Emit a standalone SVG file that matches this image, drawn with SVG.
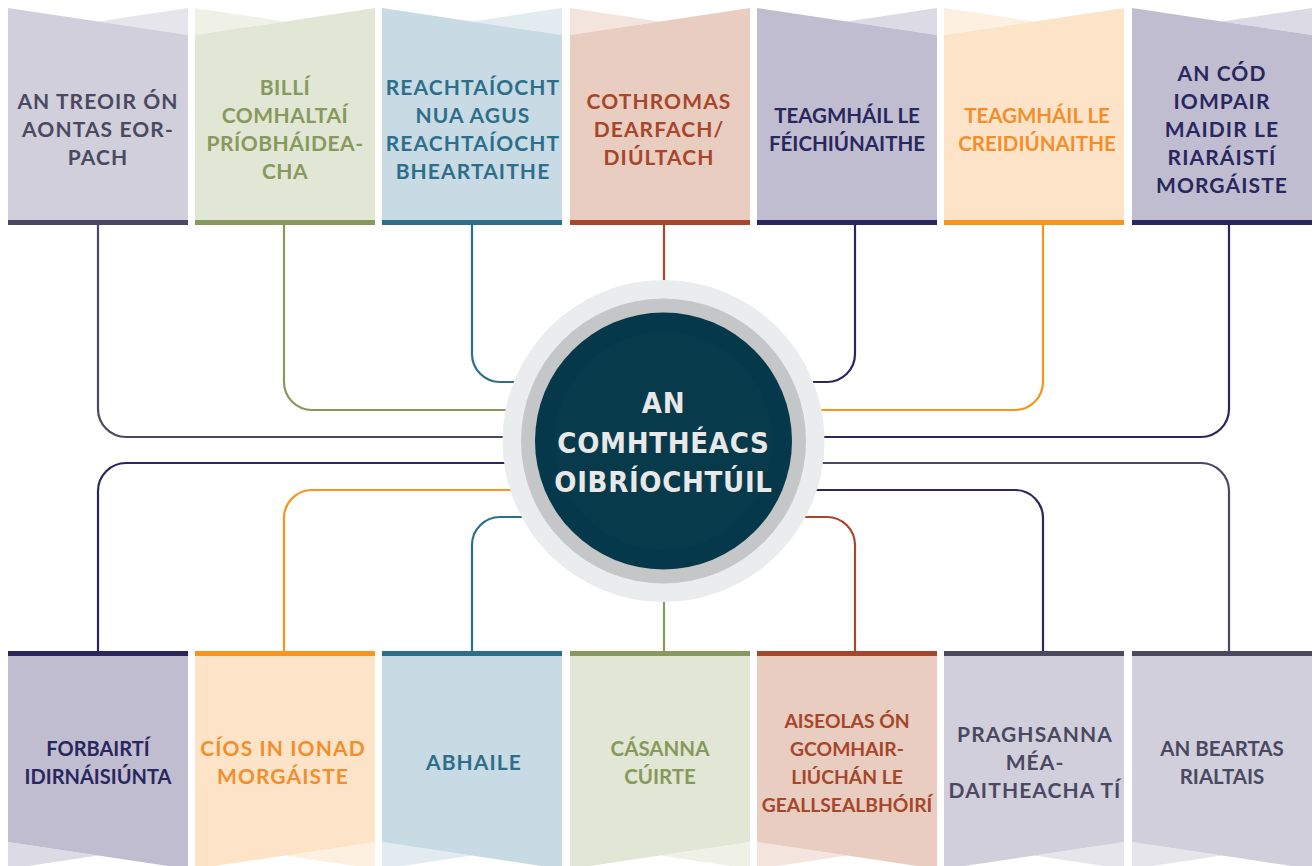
<svg xmlns="http://www.w3.org/2000/svg" width="1314" height="866" viewBox="0 0 1314 866">
<style>
.t{font-family:Lato,"Liberation Sans",sans-serif;font-weight:700;font-size:20.5px;text-anchor:middle}
.w{font-size:21px;letter-spacing:1.1px}
.m{font-size:21px;letter-spacing:0.5px}
.n{font-size:20px}
.s{font-size:19.3px}
.lite{opacity:.55}
.c{fill:none;stroke-width:2.2}
.gp{fill:#d0cfdb}.gpt{fill:#4b4862}.gps{stroke:#4b4862}
.gr{fill:#e2e6d4}.grt{fill:#87995c}.grs{stroke:#87995c}
.bl{fill:#c8dae3}.blt{fill:#2d6f8b}.bls{stroke:#2d6f8b}
.ru{fill:#e9cdc1}.rut{fill:#a6462a}.rus{stroke:#a6462a}
.nv{fill:#c0bdd0}.nvt{fill:#29275e}.nvs{stroke:#29275e}
.or{fill:#fde3c7}.ort{fill:#f28f2c}.ors{stroke:#f7941d}
.ct{font-family:"DejaVu Sans Condensed","DejaVu Sans",sans-serif;font-weight:700;font-size:29px;fill:#e8e8e8;text-anchor:middle;letter-spacing:0.7px}
</style>
<rect width="1314" height="866" fill="#ffffff"/>
<g id="connectors">
<path class="c gps" d="M98,225 V409 A28,28 0 0 0 126,437 H600"/>
<path class="c grs" d="M284,225 V382 A28,28 0 0 0 312,410 H600"/>
<path class="c bls" d="M472,225 V354 A28,28 0 0 0 500,382 H600"/>
<path class="c rus" d="M664,225 V300"/>
<path class="c nvs" d="M855,225 V354 A28,28 0 0 1 827,382 H720"/>
<path class="c ors" d="M1043,225 V382 A28,28 0 0 1 1015,410 H720"/>
<path class="c nvs" d="M1229,225 V409 A28,28 0 0 1 1201,437 H720"/>
<path class="c nvs" d="M98,651 V491 A28,28 0 0 1 126,463 H600"/>
<path class="c ors" d="M284,651 V518 A28,28 0 0 1 312,490 H600"/>
<path class="c bls" d="M472,651 V545 A28,28 0 0 1 500,517 H600"/>
<path class="c grs" d="M664,651 V580"/>
<path class="c rus" d="M855,651 V545 A28,28 0 0 0 827,517 H720"/>
<path class="c nvs" d="M1043,651 V518 A28,28 0 0 0 1015,490 H720"/>
<path class="c gps" d="M1229,651 V491 A28,28 0 0 0 1201,463 H720"/>
</g>
<g id="center">
<circle cx="663.5" cy="441" r="161" fill="#ebeced"/>
<circle cx="663.5" cy="441" r="142.5" fill="#c4c6c8"/>
<circle cx="663.5" cy="441" r="128.5" fill="#05384a"/>
<circle cx="663.5" cy="441" r="109" fill="#073a4b"/>
<text class="ct" x="663.5" y="413">AN</text>
<text class="ct" x="663.5" y="453">COMHTHÉACS</text>
<text class="ct" x="663.5" y="492">OIBRÍOCHTÚIL</text>
</g>
<g id="top1">
<polygon class="gp" points="8,8 188,35 188,220 8,220"/>
<polygon class="gp lite" points="98,21.5 188,8 188,35"/>
<rect x="8" y="220" width="180" height="5" fill="#4b4862"/>
<text class="t w gpt" x="98" y="109">AN TREOIR ÓN</text>
<text class="t w gpt" x="98" y="137">AONTAS EOR-</text>
<text class="t w gpt" x="98" y="165">PACH</text>
</g>
<g id="top2">
<polygon class="gr" points="195,35 375,8 375,220 195,220"/>
<polygon class="gr lite" points="195,8 285,21.5 195,35"/>
<rect x="195" y="220" width="180" height="5" fill="#87995c"/>
<text class="t m grt" x="285" y="95">BILLÍ</text>
<text class="t m grt" x="285" y="123">COMHALTAÍ</text>
<text class="t m grt" x="285" y="151">PRÍOBHÁIDEA-</text>
<text class="t m grt" x="285" y="179">CHA</text>
</g>
<g id="top3">
<polygon class="bl" points="382,8 562,35 562,220 382,220"/>
<polygon class="bl lite" points="472,21.5 562,8 562,35"/>
<rect x="382" y="220" width="180" height="5" fill="#2d6f8b"/>
<text class="t w blt" x="473" y="95">REACHTAÍOCHT</text>
<text class="t w blt" x="473" y="123">NUA AGUS</text>
<text class="t w blt" x="473" y="151">REACHTAÍOCHT</text>
<text class="t w blt" x="473" y="179">BHEARTAITHE</text>
</g>
<g id="top4">
<polygon class="ru" points="570,35 750,8 750,220 570,220"/>
<polygon class="ru lite" points="570,8 660,21.5 570,35"/>
<rect x="570" y="220" width="180" height="5" fill="#a6462a"/>
<text class="t w rut" x="659" y="109">COTHROMAS</text>
<text class="t w rut" x="659" y="137">DEARFACH/</text>
<text class="t w rut" x="659" y="165">DIÚLTACH</text>
</g>
<g id="top5">
<polygon class="nv" points="757,8 937,35 937,220 757,220"/>
<polygon class="nv lite" points="847,21.5 937,8 937,35"/>
<rect x="757" y="220" width="180" height="5" fill="#29275e"/>
<text class="t nvt" x="847" y="123">TEAGMHÁIL LE</text>
<text class="t nvt" x="847" y="151">FÉICHIÚNAITHE</text>
</g>
<g id="top6">
<polygon class="or" points="944,35 1124,8 1124,220 944,220"/>
<polygon class="or lite" points="944,8 1034,21.5 944,35"/>
<rect x="944" y="220" width="180" height="5" fill="#f7941d"/>
<text class="t ort" x="1037" y="123">TEAGMHÁIL LE</text>
<text class="t ort" x="1037" y="151">CREIDIÚNAITHE</text>
</g>
<g id="top7">
<polygon class="nv" points="1132,8 1312,35 1312,220 1132,220"/>
<polygon class="nv lite" points="1222,21.5 1312,8 1312,35"/>
<rect x="1132" y="220" width="180" height="5" fill="#29275e"/>
<text class="t w nvt" x="1222" y="81">AN CÓD</text>
<text class="t w nvt" x="1222" y="109">IOMPAIR</text>
<text class="t w nvt" x="1222" y="137">MAIDIR LE</text>
<text class="t w nvt" x="1222" y="165">RIARÁISTÍ</text>
<text class="t w nvt" x="1222" y="193">MORGÁISTE</text>
</g>
<g id="bot1">
<polygon class="nv" points="8,656 188,656 188,869 8,842"/>
<polygon class="nv lite" points="8,842 98,855.5 8,869"/>
<rect x="8" y="651" width="180" height="5" fill="#29275e"/>
<text class="t n nvt" x="98" y="756">FORBAIRTÍ</text>
<text class="t n nvt" x="98" y="784">IDIRNÁISIÚNTA</text>
</g>
<g id="bot2">
<polygon class="or" points="195,656 375,656 375,842 195,869"/>
<polygon class="or lite" points="375,842 375,869 285,855.5"/>
<rect x="195" y="651" width="180" height="5" fill="#f7941d"/>
<text class="t w ort" x="283" y="756">CÍOS IN IONAD</text>
<text class="t w ort" x="283" y="784">MORGÁISTE</text>
</g>
<g id="bot3">
<polygon class="bl" points="382,656 562,656 562,869 382,842"/>
<polygon class="bl lite" points="382,842 472,855.5 382,869"/>
<rect x="382" y="651" width="180" height="5" fill="#2d6f8b"/>
<text class="t w blt" x="474" y="770">ABHAILE</text>
</g>
<g id="bot4">
<polygon class="gr" points="570,656 750,656 750,842 570,869"/>
<polygon class="gr lite" points="750,842 750,869 660,855.5"/>
<rect x="570" y="651" width="180" height="5" fill="#87995c"/>
<text class="t grt" x="660" y="756">CÁSANNA</text>
<text class="t grt" x="660" y="784">CÚIRTE</text>
</g>
<g id="bot5">
<polygon class="ru" points="757,656 937,656 937,869 757,842"/>
<polygon class="ru lite" points="757,842 847,855.5 757,869"/>
<rect x="757" y="651" width="180" height="5" fill="#a6462a"/>
<text class="t s rut" x="847" y="728">AISEOLAS ÓN</text>
<text class="t s rut" x="847" y="756">GCOMHAIR-</text>
<text class="t s rut" x="847" y="784">LIÚCHÁN LE</text>
<text class="t s rut" x="847" y="812">GEALLSEALBHÓIRÍ</text>
</g>
<g id="bot6">
<polygon class="gp" points="944,656 1124,656 1124,842 944,869"/>
<polygon class="gp lite" points="1124,842 1124,869 1034,855.5"/>
<rect x="944" y="651" width="180" height="5" fill="#4b4862"/>
<text class="t w gpt" x="1035" y="742">PRAGHSANNA</text>
<text class="t w gpt" x="1035" y="770">MÉA-</text>
<text class="t w gpt" x="1035" y="798">DAITHEACHA TÍ</text>
</g>
<g id="bot7">
<polygon class="gp" points="1132,656 1312,656 1312,869 1132,842"/>
<polygon class="gp lite" points="1132,842 1222,855.5 1132,869"/>
<rect x="1132" y="651" width="180" height="5" fill="#4b4862"/>
<text class="t gpt" x="1222" y="756">AN BEARTAS</text>
<text class="t gpt" x="1222" y="784">RIALTAIS</text>
</g>
</svg>
